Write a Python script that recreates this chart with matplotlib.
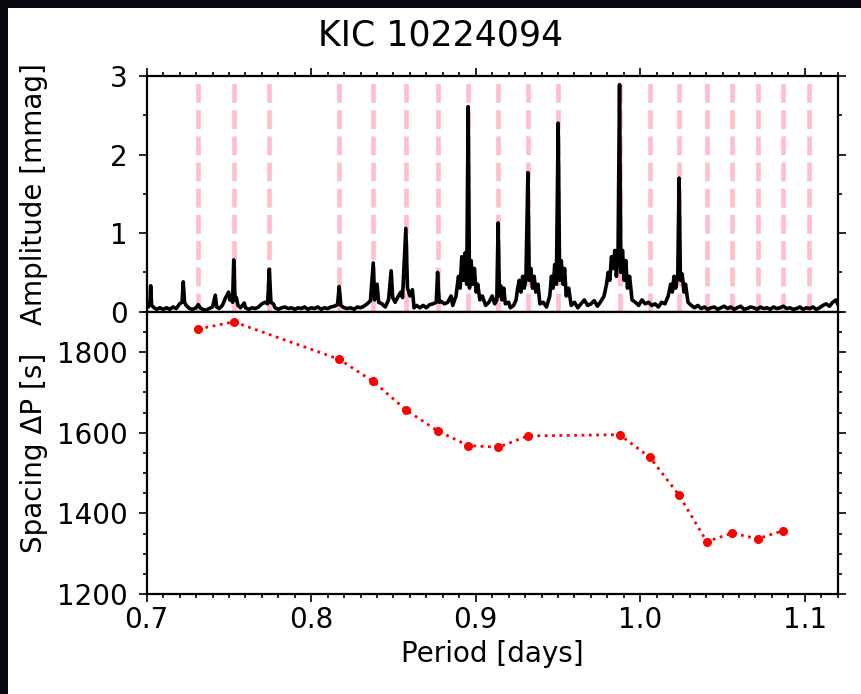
import matplotlib
matplotlib.use("Agg")
import matplotlib.pyplot as plt
from matplotlib.patches import Rectangle
from matplotlib.ticker import MultipleLocator

# ---------------- data ----------------
title = "KIC 10224094"

# amplitude spectrum (period [d], amplitude [mmag])
spec_period = [
    0.7000, 0.7010, 0.7020, 0.7024, 0.7030, 0.7045, 0.7060, 0.7080, 0.7100, 0.7120,
    0.7140, 0.7160, 0.7180, 0.7200, 0.7215, 0.7222, 0.7230, 0.7240, 0.7260, 0.7280,
    0.7300, 0.7313, 0.7325, 0.7340, 0.7360, 0.7380, 0.7400, 0.7417, 0.7425, 0.7440,
    0.7460, 0.7480, 0.7498, 0.7505, 0.7515, 0.7522, 0.7529, 0.7537, 0.7545, 0.7555,
    0.7570, 0.7593, 0.7600, 0.7620, 0.7640, 0.7660, 0.7680, 0.7700, 0.7720, 0.7735,
    0.7745, 0.7755, 0.7770, 0.7780, 0.7800, 0.7820, 0.7840, 0.7860, 0.7880, 0.7900,
    0.7920, 0.7940, 0.7960, 0.7980, 0.8000, 0.8020, 0.8040, 0.8060, 0.8080, 0.8100,
    0.8120, 0.8140, 0.8160, 0.8170, 0.8180, 0.8200, 0.8220, 0.8240, 0.8260, 0.8280,
    0.8300, 0.8320, 0.8340, 0.8360, 0.8377, 0.8385, 0.8400, 0.8410, 0.8430, 0.8450,
    0.8470, 0.8486, 0.8495, 0.8510, 0.8530, 0.8545, 0.8555, 0.8575, 0.8585, 0.8600,
    0.8615, 0.8625, 0.8640, 0.8660, 0.8680, 0.8700, 0.8720, 0.8740, 0.8760, 0.8768,
    0.8778, 0.8790, 0.8810, 0.8830, 0.8850, 0.8860, 0.8880, 0.8895, 0.8905, 0.8915,
    0.8925, 0.8935, 0.8945, 0.8954, 0.8962, 0.8972, 0.8982, 0.8992, 0.9002, 0.9012,
    0.9025, 0.9040, 0.9060, 0.9080, 0.9100, 0.9115, 0.9128, 0.9136, 0.9144, 0.9152,
    0.9160, 0.9170, 0.9180, 0.9200, 0.9210, 0.9230, 0.9245, 0.9255, 0.9265, 0.9275,
    0.9285, 0.9295, 0.9305, 0.9317, 0.9325, 0.9335, 0.9345, 0.9355, 0.9365, 0.9378,
    0.9390, 0.9410, 0.9430, 0.9450, 0.9460, 0.9470, 0.9480, 0.9490, 0.9501, 0.9510,
    0.9520, 0.9530, 0.9540, 0.9550, 0.9565, 0.9580, 0.9600, 0.9620, 0.9640, 0.9660,
    0.9680, 0.9700, 0.9720, 0.9740, 0.9760, 0.9780, 0.9795, 0.9805, 0.9815, 0.9825,
    0.9835, 0.9845, 0.9855, 0.9865, 0.9874, 0.9882, 0.9892, 0.9902, 0.9912, 0.9922,
    0.9935, 0.9950, 0.9970, 0.9990, 1.0010, 1.0030, 1.0050, 1.0070, 1.0090, 1.0110,
    1.0130, 1.0150, 1.0170, 1.0185, 1.0195, 1.0205, 1.0215, 1.0228, 1.0236, 1.0244,
    1.0255, 1.0265, 1.0275, 1.0290, 1.0310, 1.0330, 1.0350, 1.0370, 1.0390, 1.0410,
    1.0430, 1.0450, 1.0470, 1.0490, 1.0510, 1.0530, 1.0550, 1.0570, 1.0590, 1.0610,
    1.0630, 1.0650, 1.0670, 1.0690, 1.0710, 1.0730, 1.0750, 1.0770, 1.0790, 1.0810,
    1.0830, 1.0850, 1.0870, 1.0890, 1.0910, 1.0930, 1.0950, 1.0970, 1.0990, 1.1010,
    1.1030, 1.1050, 1.1070, 1.1090, 1.1110, 1.1130, 1.1150, 1.1170, 1.1190, 1.1200,
]
spec_amp = [
    0.10, 0.06, 0.12, 0.33, 0.08, 0.05, 0.03, 0.05, 0.03, 0.05,
    0.03, 0.06, 0.04, 0.10, 0.12, 0.38, 0.12, 0.08, 0.04, 0.03,
    0.05, 0.09, 0.05, 0.03, 0.02, 0.04, 0.06, 0.21, 0.06, 0.04,
    0.08, 0.18, 0.25, 0.15, 0.20, 0.12, 0.66, 0.15, 0.18, 0.08,
    0.05, 0.11, 0.05, 0.03, 0.05, 0.04, 0.06, 0.10, 0.12, 0.10,
    0.54, 0.12, 0.10, 0.05, 0.03, 0.05, 0.06, 0.04, 0.05, 0.03,
    0.05, 0.04, 0.06, 0.03, 0.05, 0.04, 0.06, 0.03, 0.05, 0.04,
    0.06, 0.07, 0.09, 0.32, 0.08, 0.05, 0.04, 0.05, 0.03, 0.06,
    0.05, 0.07, 0.10, 0.14, 0.62, 0.15, 0.35, 0.12, 0.10, 0.06,
    0.15, 0.52, 0.18, 0.12, 0.20, 0.25, 0.18, 1.06, 0.30, 0.20,
    0.28, 0.05, 0.08, 0.05, 0.08, 0.05, 0.09, 0.10, 0.12, 0.50,
    0.12, 0.13, 0.10, 0.12, 0.20, 0.08, 0.20, 0.45, 0.30, 0.70,
    0.40, 0.75, 0.35, 2.61, 0.30, 0.65, 0.35, 0.55, 0.25, 0.35,
    0.15, 0.20, 0.08, 0.12, 0.20, 0.10, 0.15, 1.13, 0.20, 0.33,
    0.15, 0.30, 0.10, 0.12, 0.05, 0.08, 0.15, 0.30, 0.40, 0.25,
    0.45, 0.30, 0.42, 1.77, 0.40, 0.55, 0.30, 0.45, 0.25, 0.35,
    0.10, 0.12, 0.06, 0.20, 0.45, 0.30, 0.60, 0.35, 2.40, 0.40,
    0.65, 0.35, 0.55, 0.20, 0.30, 0.08, 0.12, 0.05, 0.10, 0.15,
    0.08, 0.10, 0.14, 0.07, 0.13, 0.20, 0.35, 0.50, 0.40, 0.70,
    0.55, 0.78, 0.45, 0.75, 2.89, 0.50, 0.78, 0.40, 0.65, 0.30,
    0.45, 0.15, 0.12, 0.08, 0.15, 0.10, 0.12, 0.08, 0.10, 0.06,
    0.12, 0.10, 0.20, 0.35, 0.25, 0.45, 0.30, 0.48, 1.70, 0.40,
    0.48, 0.25, 0.35, 0.12, 0.08, 0.05, 0.08, 0.04, 0.06, 0.03,
    0.05, 0.06, 0.03, 0.05, 0.07, 0.04, 0.06, 0.03, 0.05, 0.07,
    0.03, 0.04, 0.06, 0.05, 0.03, 0.06, 0.04, 0.05, 0.03, 0.06,
    0.04, 0.05, 0.07, 0.04, 0.05, 0.03, 0.04, 0.06, 0.03, 0.05,
    0.04, 0.06, 0.03, 0.05, 0.08, 0.10, 0.07, 0.12, 0.15, 0.10,
]

# identified mode periods (pink dashed lines)
mode_periods = [0.7313, 0.7529, 0.7745, 0.8170, 0.8377, 0.8577, 0.8770,
                0.8954, 0.9136, 0.9317, 0.9501, 0.9874, 1.0058, 1.0236,
                1.0404, 1.0558, 1.0714, 1.0868, 1.1026]

# period spacings
spacing_period = [0.7313, 0.7529, 0.8170, 0.8377, 0.8577, 0.8770, 0.8954,
                  0.9136, 0.9317, 0.9874, 1.0058, 1.0236, 1.0404, 1.0558,
                  1.0714, 1.0868]
spacing_value = [1857, 1875, 1782, 1727, 1656, 1604, 1568,
                 1564, 1592, 1595, 1539, 1445, 1330, 1351,
                 1337, 1357]
spacing_err = [5, 5, 5, 5, 5, 5, 5, 5, 5, 5, 5, 5, 7, 7, 7, 10]

# ---------------- figure ----------------
plt.rcParams['font.family'] = ['DejaVu Sans']
FS = 20

fig = plt.figure(figsize=(8.62, 6.94), dpi=100, facecolor='#07080d')
fig.add_artist(Rectangle((8 / 862, 0), 1 - 8 / 862, 1 - 8 / 694,
                         transform=fig.transFigure, facecolor='white',
                         edgecolor='none', zorder=-10))

L, W = 146.7 / 862, (837.7 - 146.7) / 862
ax1 = fig.add_axes([L, 1 - 311.7 / 694, W, (311.7 - 76) / 694])
ax2 = fig.add_axes([L, 1 - 594 / 694, W, (594 - 311.7) / 694])

for ax in (ax1, ax2):
    ax.set_xlim(0.7, 1.12)
    ax.xaxis.set_major_locator(MultipleLocator(0.1))
    ax.xaxis.set_minor_locator(MultipleLocator(0.01))
    for s in ax.spines.values():
        s.set_linewidth(1.6)
    ax.tick_params(which='major', direction='out', length=5.5, width=1.2,
                   labelsize=FS)
    ax.tick_params(which='minor', direction='out', length=3.2, width=1.2)
    ax.tick_params(axis='y', which='major', pad=8)

# upper panel
for p in mode_periods:
    ax1.axvline(p, color='pink', lw=3.4, linestyle=(0, (4.0, 1.55)), zorder=1)
ax1.plot(spec_period, spec_amp, color='black', lw=2.6, zorder=3)
ax1.set_ylim(0, 3)
ax1.yaxis.set_major_locator(MultipleLocator(1))
ax1.yaxis.set_minor_locator(MultipleLocator(0.5))
ax1.tick_params(axis='x', which='both', top=True, bottom=False,
                labelbottom=False)
ax1.tick_params(axis='y', which='both', left=True, right=True)
ax1.set_ylabel('Amplitude [mmag]', fontsize=FS)

# lower panel
ax2.errorbar(spacing_period, spacing_value, yerr=spacing_err, color='red',
             fmt='o', ms=5.5, elinewidth=1.6, capsize=0, zorder=3)
ax2.plot(spacing_period, spacing_value, color='red', lw=2.0, linestyle=':',
         zorder=2)
ax2.set_ylim(1200, 1900)
ax2.yaxis.set_major_locator(MultipleLocator(200))
ax2.yaxis.set_minor_locator(MultipleLocator(50))
ax2.tick_params(axis='x', which='both', top=False, bottom=True)
ax2.tick_params(axis='y', which='both', left=True, right=True)
ax2.set_ylabel('Spacing ΔP [s]', fontsize=FS)
ax2.set_xlabel('Period [days]', fontsize=FS)

for ax in (ax1, ax2):
    ax.yaxis.set_label_coords(-0.1424, 0.5)

fig.text(441 / 862, 1 - 36 / 694, title, fontsize=25, ha='center', va='center')

fig.savefig('out.png', dpi=100, facecolor=fig.get_facecolor())
